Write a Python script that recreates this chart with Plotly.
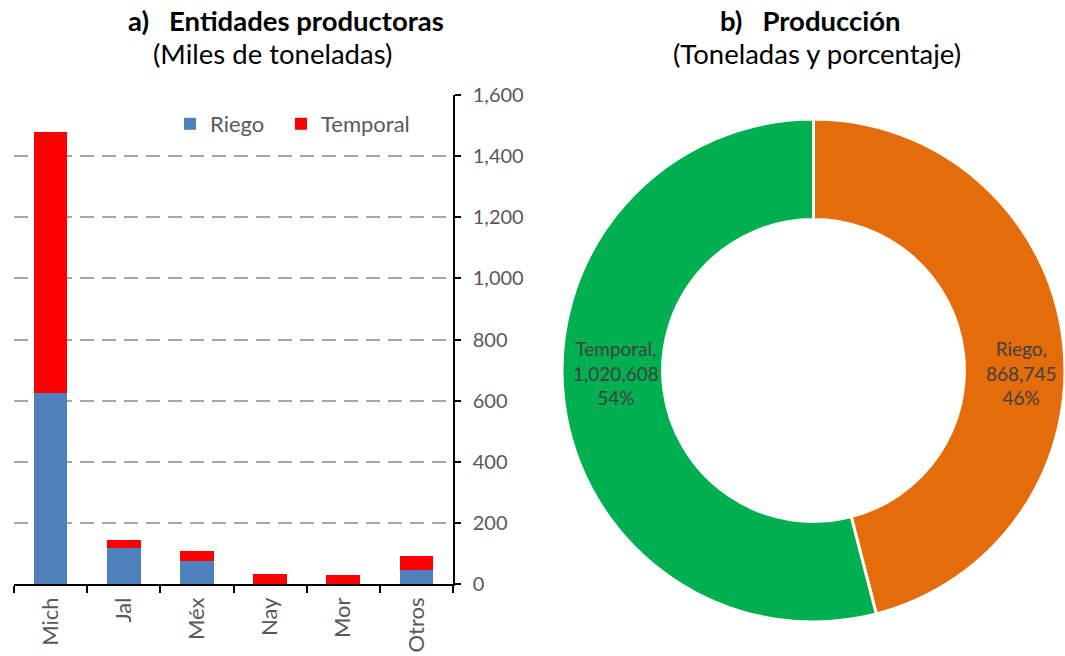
import math
import plotly.graph_objects as go

estados = ["Mich", "Jal", "Méx", "Nay", "Mor", "Otros"]
riego = [625, 118, 75, 0, 0, 47]
temporal = [854, 26, 33, 32, 30, 45]

pie_labels = ["Riego", "Temporal"]
pie_values = [868745, 1020608]

W, H = 1065, 656
FONT = "Lato"
GRAY = "#595959"


def fx(px):
    return px / W


def fy(py):
    return (H - py) / H


fig = go.Figure()
fig.add_trace(go.Bar(x=estados, y=riego, name="Riego", marker=dict(color="#4F81BD", line=dict(width=0)),
                     xaxis="x", yaxis="y", legend="legend"))
fig.add_trace(go.Bar(x=estados, y=temporal, name="Temporal", marker=dict(color="#FF0000", line=dict(width=0)),
                     xaxis="x", yaxis="y", legend="legend2"))

# pie geometry (pixels)
r = 251.5
cx, cy = W - r, 370.5
fig.add_trace(go.Pie(
    labels=pie_labels, values=pie_values, hole=0.60, sort=False, direction="clockwise", rotation=0,
    marker=dict(colors=["#E46C0A", "#00B050"], line=dict(color="white", width=3)),
    textinfo="none", showlegend=False, hoverinfo="label+value+percent",
    domain=dict(x=[fx(cx - r), 1.0], y=[fy(cy + r), fy(cy - r)]),
))

# slice labels placed at each slice's mid-angle (horizontal projection), inside the ring
total = sum(pie_values)
annotations = []
cum = 0.0
for lab, val in zip(pie_labels, pie_values):
    frac = val / total
    mid = (cum + frac / 2) * 2 * math.pi
    cum += frac
    px = cx + 5 + 0.81 * r * math.sin(mid)
    annotations.append(dict(
        text=f"{lab},<br>{val:,}<br>{round(frac * 100)}%", x=fx(px), y=fy(cy + 2),
        xref="paper", yref="paper", showarrow=False, xanchor="center", yanchor="middle",
        font=dict(family=FONT, size=19, color="#404040"), align="center"))

TS = 27.5
annotations += [
    dict(text="<b>a)\u00a0\u00a0\u00a0Entidades productoras</b>", x=fx(285.5), y=fy(20), xref="paper",
         yref="paper", showarrow=False, font=dict(size=TS, color="black"), xanchor="center", yanchor="middle",
         borderpad=0),
    dict(text="(Miles de toneladas)", x=fx(272), y=fy(54), xref="paper", yref="paper", showarrow=False,
         font=dict(size=TS, color="black"), xanchor="center", yanchor="middle", borderpad=0),
    dict(text="<b>b)\u00a0\u00a0\u00a0Producción</b>", x=fx(810), y=fy(20), xref="paper",
         yref="paper", showarrow=False, font=dict(size=TS, color="black"), xanchor="center", yanchor="middle",
         borderpad=0),
    dict(text="(Toneladas y porcentaje)", x=fx(816.5), y=fy(54), xref="paper", yref="paper",
         showarrow=False, font=dict(size=TS, color="black"), xanchor="center", yanchor="middle", borderpad=0),
]

leg_common = dict(orientation="h", xanchor="left", yanchor="top", font=dict(size=22, color=GRAY),
                  bgcolor="rgba(0,0,0,0)", itemwidth=30)

fig.update_layout(
    width=W, height=H, autosize=False,
    margin=dict(l=0, r=0, t=0, b=0, autoexpand=False),
    paper_bgcolor="white", plot_bgcolor="white",
    barmode="stack", bargap=0.54,
    font=dict(family=FONT, color=GRAY, size=20),
    xaxis=dict(domain=[fx(14), fx(453)], anchor="y", showline=True, linecolor="black", linewidth=1.5,
               ticks="outside", tickson="boundaries", ticklen=7, tickcolor="black", tickwidth=1.5,
               tickangle=-90, tickfont=dict(size=22, color=GRAY), showgrid=False, automargin=False,
               ticklabelstandoff=3),
    yaxis=dict(domain=[fy(584), fy(95)], anchor="x", side="right", range=[0, 1600],
               dtick=200, tickformat=",", showline=True, linecolor="black", linewidth=1.5,
               ticks="outside", ticklen=6, tickcolor="black", tickwidth=1.5,
               tickfont=dict(size=20, color=GRAY), showgrid=True, gridcolor="#A6A6A6", gridwidth=1.5,
               griddash="14px,8px", zeroline=False, automargin=False, ticklabelstandoff=8),
    legend=dict(x=fx(170), y=fy(103), **leg_common),
    legend2=dict(x=fx(281), y=fy(103), **leg_common),
    annotations=annotations,
)

fig.write_html("out.html", config={"displayModeBar": False},
               post_script="document.body.style.margin='0';")
